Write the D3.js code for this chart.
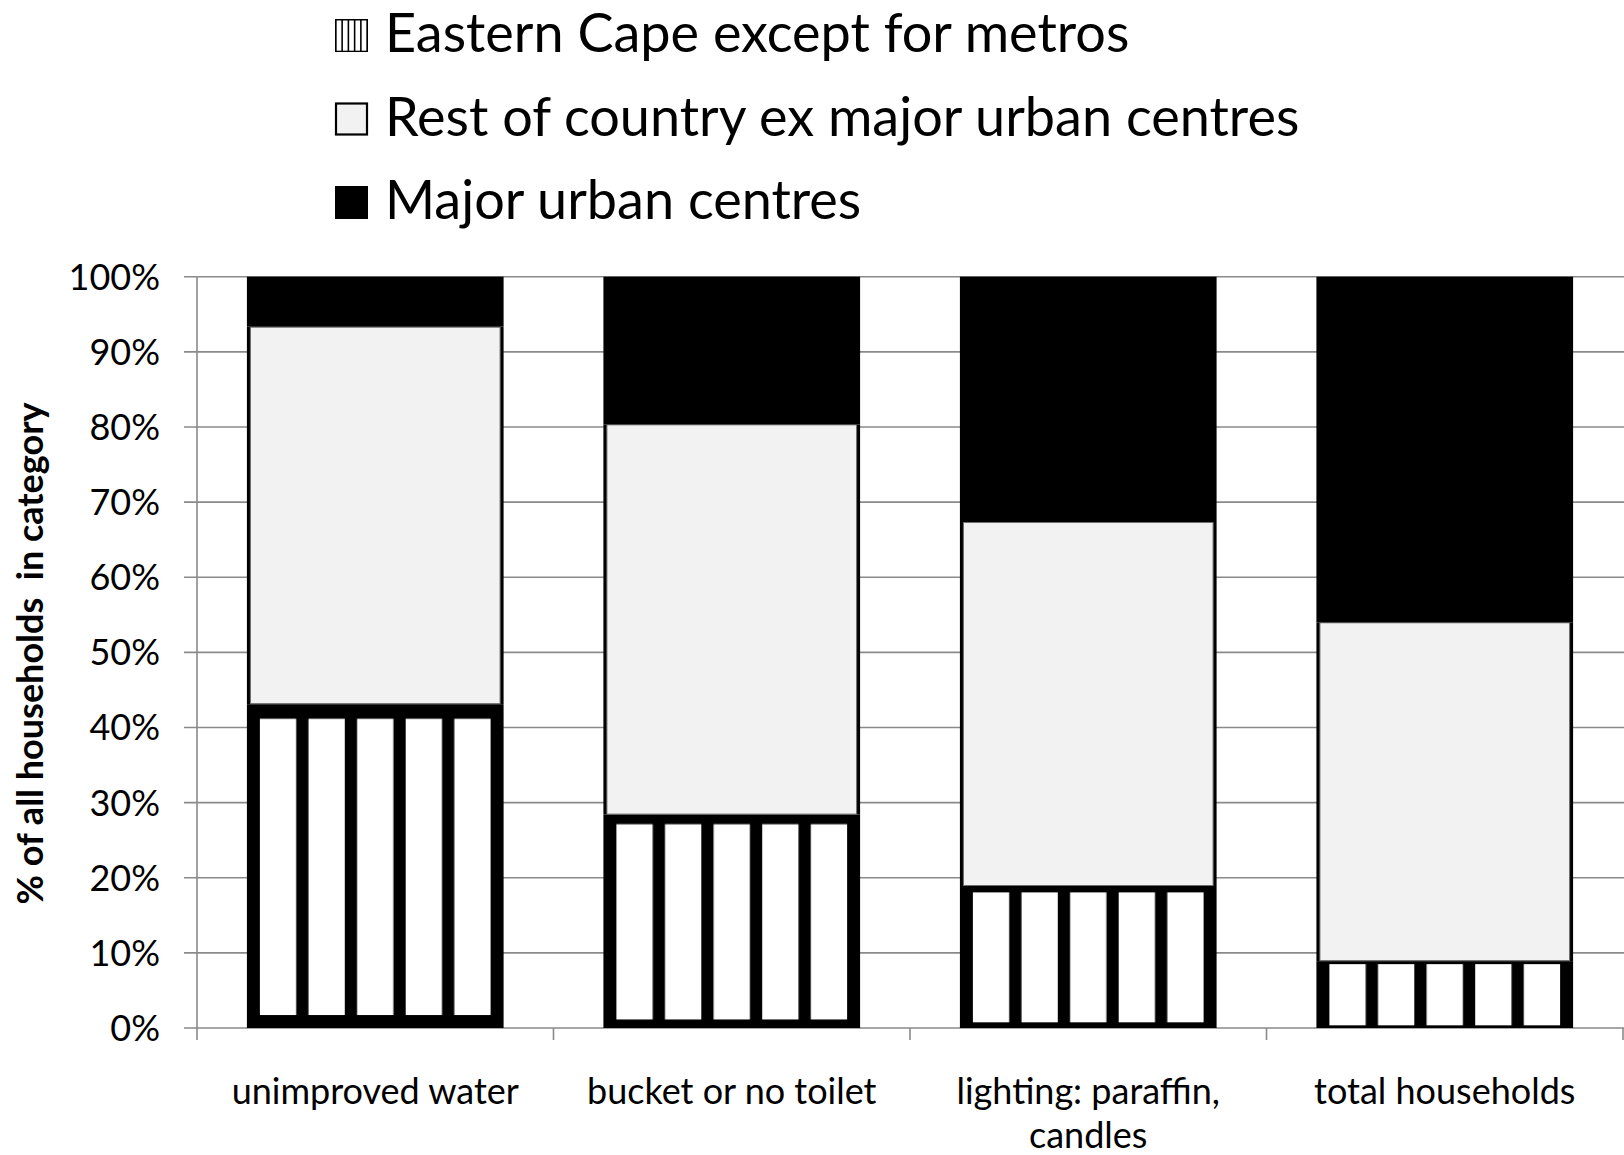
<!DOCTYPE html>
<html>
<head>
<meta charset="utf-8">
<script src="https://cdn.jsdelivr.net/npm/d3@7"></script>
<style>
  html, body { margin: 0; padding: 0; background: #fff; }
  svg { display: block; }
</style>
</head>
<body>
<svg id="chart" width="1624" height="1155"></svg>
<script>
// ---- data ----
const categories = ["unimproved water", "bucket or no toilet", "lighting: paraffin, candles", "total households"];
const categoryLabelLines = [["unimproved water"], ["bucket or no toilet"], ["lighting: paraffin,", "candles"], ["total households"]];
const seriesNames = ["Eastern Cape except for metros", "Rest of country ex major urban centres", "Major urban centres"];
const easternCape   = [43.1, 28.4, 18.9, 8.9];
const restOfCountry = [50.25, 51.95, 48.45, 45.1];
const majorUrban    = [6.65, 19.65, 32.65, 46.0];
const yTickValues = [0, 10, 20, 30, 40, 50, 60, 70, 80, 90, 100];
const yTickLabels = ["0%", "10%", "20%", "30%", "40%", "50%", "60%", "70%", "80%", "90%", "100%"];
const yAxisTitle = "% of all households  in category";

// ---- setup ----
const FONT = "Lato, 'Open Sans', sans-serif";
const svg = d3.select("#chart");
const W = 1624, H = 1155;
const plotLeft = 197, plotRight = 1623, plotTop = 276.7, plotBottom = 1028;

const rows = categories.map((c, i) => ({
  cat: c, ec: easternCape[i], rest: restOfCountry[i], major: majorUrban[i]
}));
const keys = ["ec", "rest", "major"];
const stacked = d3.stack().keys(keys)(rows);

const x = d3.scaleBand().domain(categories).range([plotLeft, plotRight]).paddingInner(0.28).paddingOuter(0.14);
const y = d3.scaleLinear().domain([0, 100]).range([plotBottom, plotTop]);

// ---- pattern: stretched "picture" of a black frame with 5 white columns ----
const defs = svg.append("defs");
const pat = defs.append("pattern")
  .attr("id", "ecPattern")
  .attr("patternUnits", "objectBoundingBox")
  .attr("patternContentUnits", "objectBoundingBox")
  .attr("width", 1).attr("height", 1);
pat.append("rect").attr("x", 0).attr("y", 0).attr("width", 1).attr("height", 1).attr("fill", "#000");
const bX = 0.0506, gX = 0.0479, nCol = 5;
const colW = (1 - 2 * bX - (nCol - 1) * gX) / nCol;
d3.range(nCol).forEach(k => {
  pat.append("rect")
    .attr("x", bX + k * (colW + gX)).attr("y", 0.045)
    .attr("width", colW).attr("height", 1 - 0.045 - 0.04)
    .attr("fill", "#fff");
});

// ---- gridlines ----
const grid = svg.append("g");
grid.selectAll("line").data(yTickValues).join("line")
  .attr("x1", 184).attr("x2", W)
  .attr("y1", d => y(d)).attr("y2", d => y(d))
  .attr("stroke", "#8a8a8a").attr("stroke-width", 1.6);

// vertical axis line
svg.append("line")
  .attr("x1", plotLeft).attr("x2", plotLeft)
  .attr("y1", plotTop).attr("y2", plotBottom + 12)
  .attr("stroke", "#8a8a8a").attr("stroke-width", 1.6);

// category boundary ticks
const step = x.step();
const boundaries = d3.range(categories.length + 1).map(k => plotLeft + k * step);
svg.append("g").selectAll("line").data(boundaries.slice(1)).join("line")
  .attr("x1", d => Math.min(d, W - 1)).attr("x2", d => Math.min(d, W - 1))
  .attr("y1", plotBottom).attr("y2", plotBottom + 12)
  .attr("stroke", "#8a8a8a").attr("stroke-width", 1.6);

// y tick labels
svg.append("g").selectAll("text").data(yTickValues).join("text")
  .attr("x", 160).attr("y", d => y(d)).attr("dy", "0.36em")
  .attr("text-anchor", "end")
  .attr("font-family", FONT).attr("font-size", 36).attr("fill", "#000")
  .text((d, i) => yTickLabels[i]);

// y title
svg.append("text")
  .attr("transform", `translate(43,653.5) rotate(-90)`)
  .attr("text-anchor", "middle")
  .attr("font-family", FONT).attr("font-weight", "bold").attr("font-size", 36)
  .attr("fill", "#000")
  .style("white-space", "pre")
  .text(yAxisTitle);

// ---- bars ----
const bw = x.bandwidth();
// Eastern Cape segments
svg.append("g").selectAll("rect").data(stacked[0]).join("rect")
  .attr("x", d => x(d.data.cat)).attr("width", bw)
  .attr("y", d => y(d[1])).attr("height", d => y(d[0]) - y(d[1]))
  .attr("fill", "url(#ecPattern)");

// Rest of country segments: black side borders + light grey fill
const restG = svg.append("g");
restG.selectAll("rect.outer").data(stacked[1]).join("rect").attr("class", "outer")
  .attr("x", d => x(d.data.cat)).attr("width", bw)
  .attr("y", d => y(d[1])).attr("height", d => y(d[0]) - y(d[1]))
  .attr("fill", "#000");
restG.selectAll("rect.inner").data(stacked[1]).join("rect").attr("class", "inner")
  .attr("x", d => x(d.data.cat) + 3.5).attr("width", bw - 7)
  .attr("y", d => y(d[1]) + 0.5).attr("height", d => y(d[0]) - y(d[1]) - 1)
  .attr("fill", "#f2f2f2").attr("stroke", "#6e6e6e").attr("stroke-width", 1);

// Major urban segments
svg.append("g").selectAll("rect").data(stacked[2]).join("rect")
  .attr("x", d => x(d.data.cat)).attr("width", bw)
  .attr("y", d => y(d[1])).attr("height", d => y(d[0]) - y(d[1]))
  .attr("fill", "#000");

// ---- x labels ----
const xl = svg.append("g");
categories.forEach((c, i) => {
  const t = xl.append("text")
    .attr("text-anchor", "middle")
    .attr("font-family", FONT).attr("font-size", 36).attr("fill", "#000");
  categoryLabelLines[i].forEach((line, j) => {
    t.append("tspan").attr("x", x(c) + bw / 2).attr("y", 1104 + j * 44).text(line);
  });
});

// ---- legend ----
const legend = svg.append("g");
const swFills = ["url(#ecPattern)", "#f2f2f2", "#000"];
const legendBaselines = [52, 135.5, 219];
seriesNames.forEach((name, i) => {
  const base = legendBaselines[i];
  const sw = legend.append("rect")
    .attr("x", 335).attr("y", base - 33).attr("width", 33).attr("height", 33)
    .attr("fill", swFills[i]);
  if (i === 1) sw.attr("stroke", "#000").attr("stroke-width", 2.2)
    .attr("x", 336).attr("y", base - 32).attr("width", 31).attr("height", 31);
  legend.append("text")
    .attr("x", 385).attr("y", base)
    .attr("font-family", FONT).attr("font-size", 54).attr("fill", "#000")
    .text(name);
});
</script>
</body>
</html>
